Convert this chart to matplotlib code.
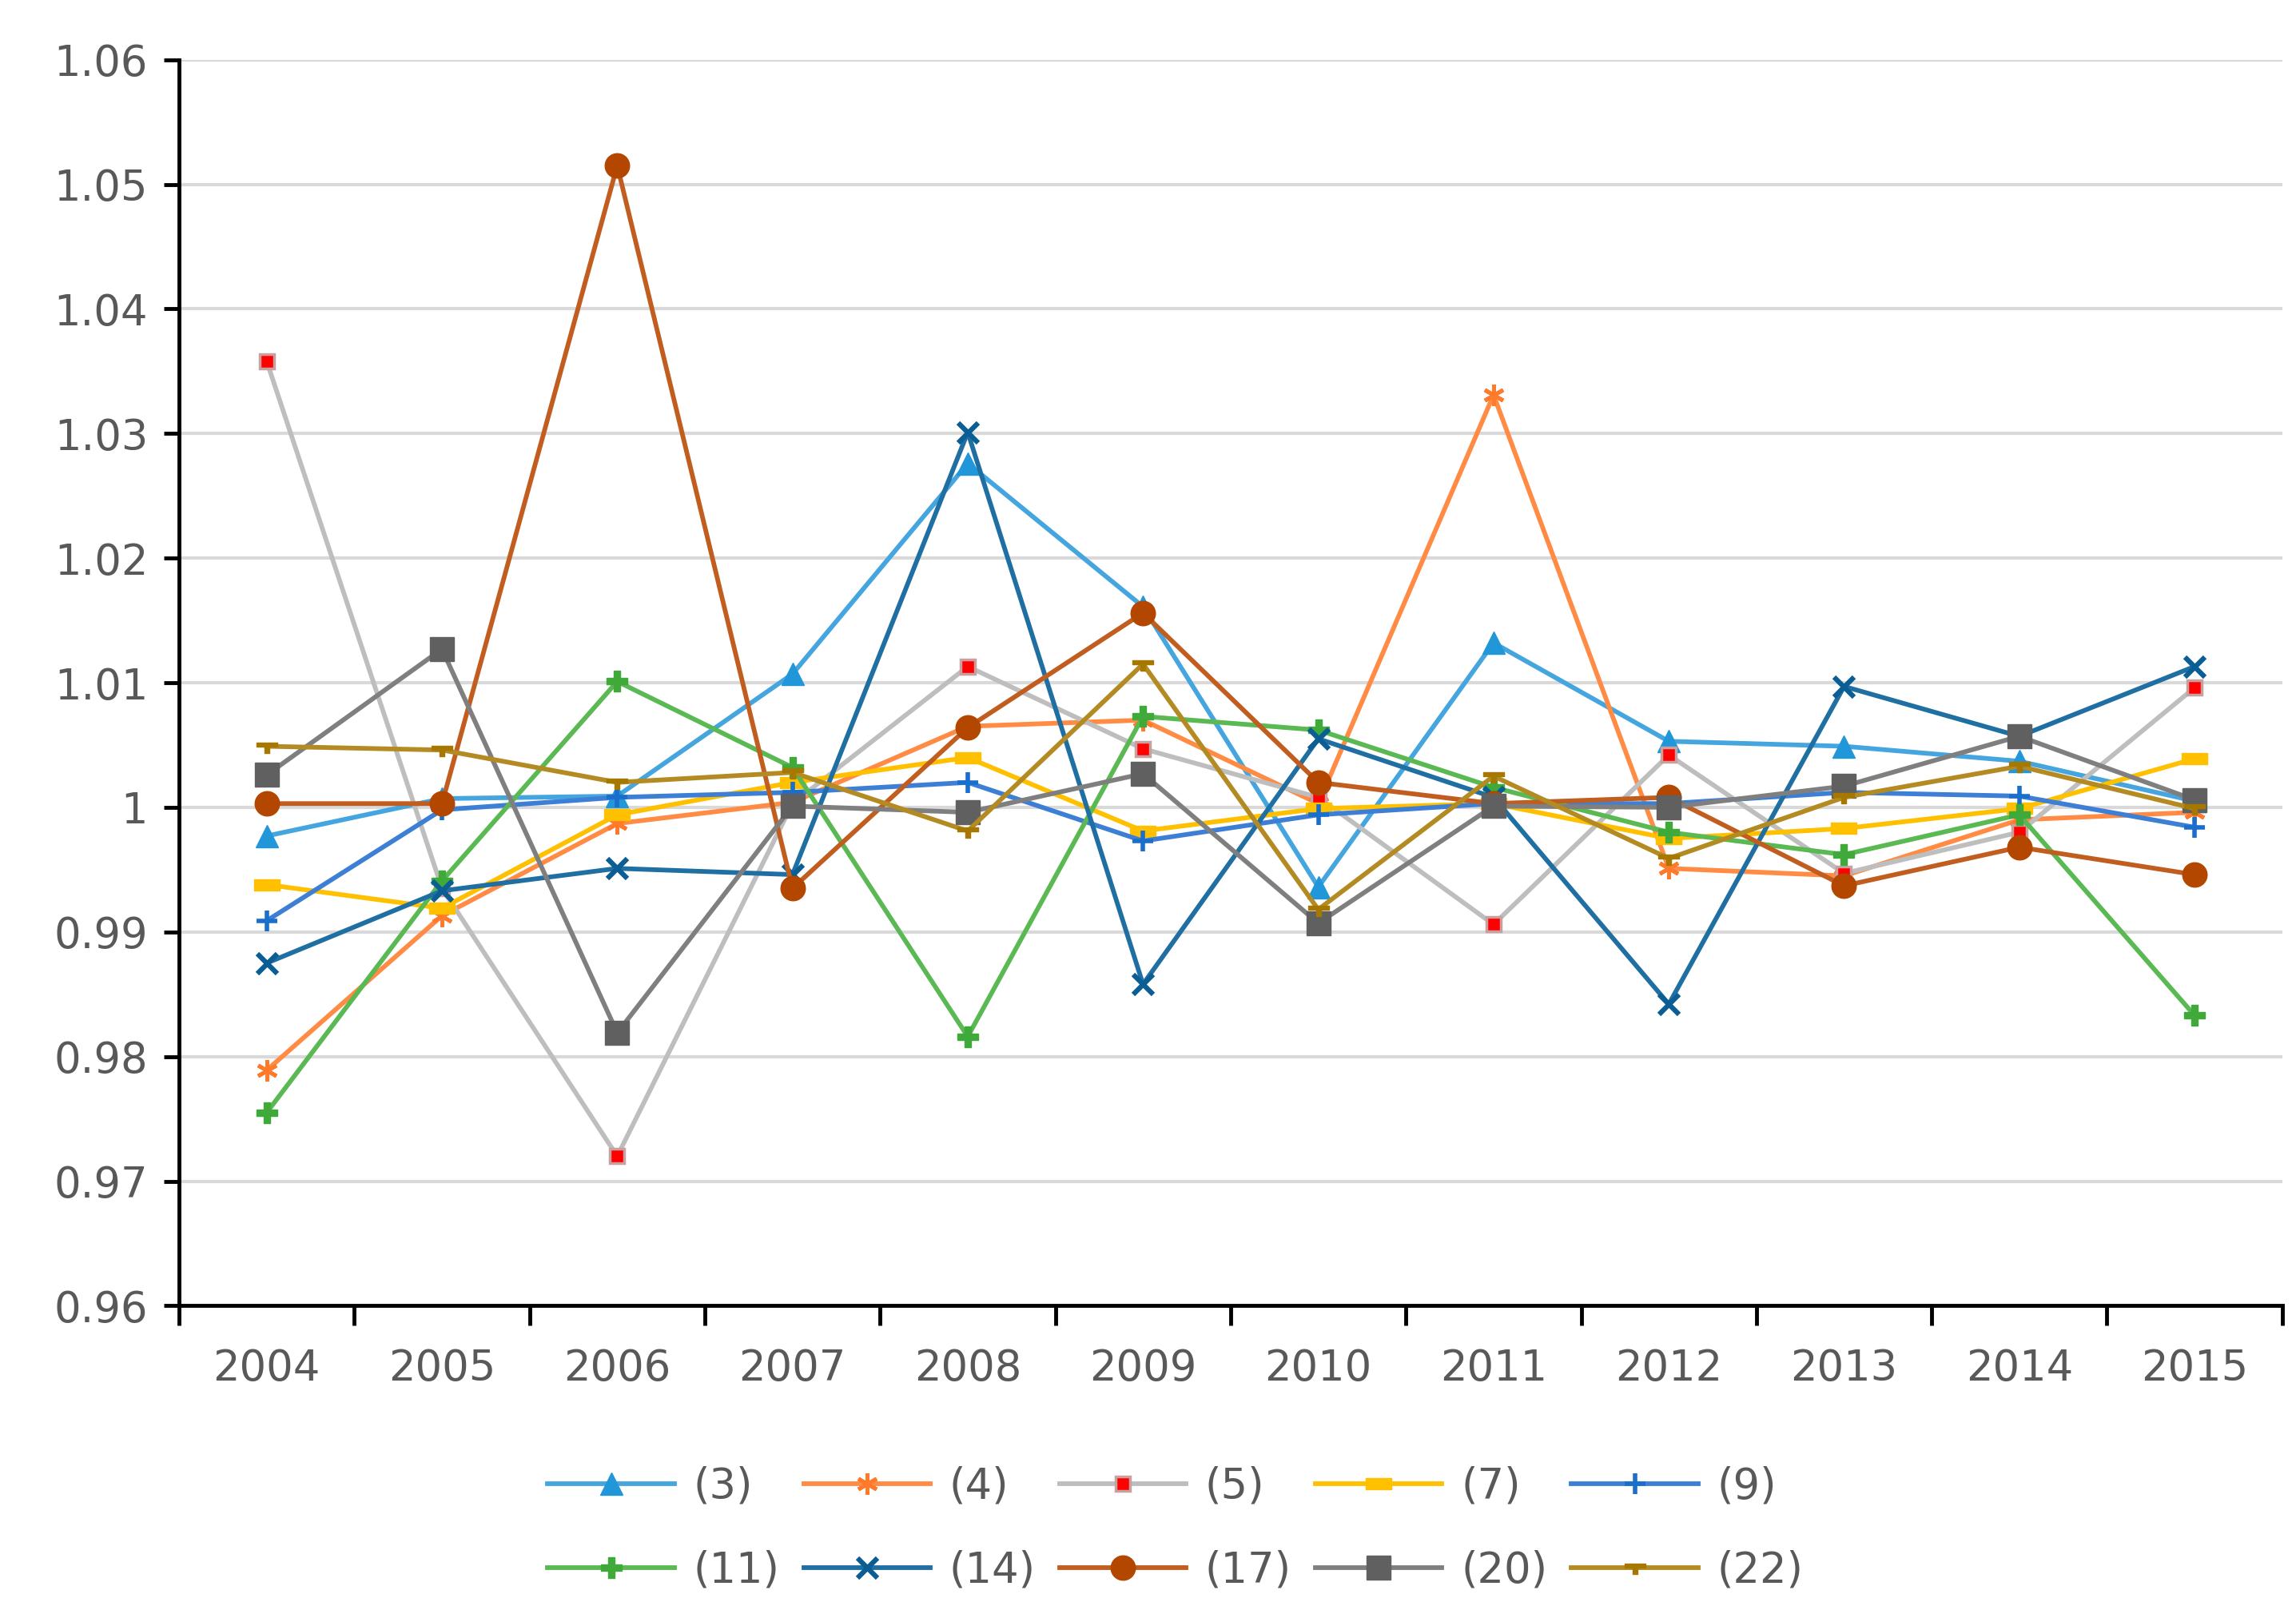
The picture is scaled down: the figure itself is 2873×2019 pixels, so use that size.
import matplotlib
matplotlib.use("Agg")
import matplotlib.pyplot as plt
from matplotlib.path import Path
import numpy as np

years = ["2004", "2005", "2006", "2007", "2008", "2009", "2010", "2011", "2012", "2013", "2014", "2015"]
labels = ["(3)", "(4)", "(5)", "(7)", "(9)", "(11)", "(14)", "(17)", "(20)", "(22)"]

s3 = [0.9977, 1.0007, 1.0009, 1.0107, 1.0276, 1.0161, 0.9936, 1.0132, 1.0053, 1.0049, 1.0037, 1.0005]
s4 = [0.9789, 0.9913, 0.9987, 1.0004, 1.0065, 1.0070, 1.0003, 1.0331, 0.9951, 0.9945, 0.9990, 0.9996]
s5 = [1.0358, 0.9935, 0.9720, 1.0003, 1.0113, 1.0047, 1.0008, 0.9906, 1.0042, 0.9947, 0.9980, 1.0096]
s7 = [0.9938, 0.9919, 0.9994, 1.0020, 1.0040, 0.9981, 0.9999, 1.0003, 0.9975, 0.9983, 0.9999, 1.0039]
s9 = [0.9909, 0.9998, 1.0008, 1.0012, 1.0020, 0.9973, 0.9994, 1.0003, 1.0003, 1.0012, 1.0009, 0.9984]
s11 = [0.9755, 0.9941, 1.0101, 1.0032, 0.9816, 1.0073, 1.0062, 1.0016, 0.9980, 0.9962, 0.9994, 0.9833]
s14 = [0.9875, 0.9933, 0.9951, 0.9946, 1.0301, 0.9858, 1.0055, 1.0008, 0.9842, 1.0097, 1.0057, 1.0113]
s17 = [1.0003, 1.0003, 1.0515, 0.9935, 1.0064, 1.0156, 1.0020, 1.0003, 1.0008, 0.9937, 0.9968, 0.9946]
s20 = [1.0026, 1.0127, 0.9819, 1.0001, 0.9996, 1.0027, 0.9907, 1.0001, 1.0000, 1.0017, 1.0057, 1.0006]
s22 = [1.0049, 1.0046, 1.0020, 1.0028, 0.9981, 1.0115, 0.9918, 1.0025, 0.9959, 1.0008, 1.0033, 0.9999]

yticks = [0.96, 0.97, 0.98, 0.99, 1.00, 1.01, 1.02, 1.03, 1.04, 1.05, 1.06]
ytick_labels = ["0.96", "0.97", "0.98", "0.99", "1", "1.01", "1.02", "1.03", "1.04", "1.05", "1.06"]

series = [s3, s4, s5, s7, s9, s11, s14, s17, s20, s22]

dash_marker = Path([(-1, -0.45), (1, -0.45), (1, 0.45), (-1, 0.45), (-1, -0.45)],
                   [Path.MOVETO, Path.LINETO, Path.LINETO, Path.LINETO, Path.CLOSEPOLY])
tee_marker = Path([(-1, 0.0), (1, 0.0), (1, 0.4), (-1, 0.4), (-1, 0.0),
                   (-0.2, 0.0), (0.2, 0.0), (0.2, -0.6), (-0.2, -0.6), (-0.2, 0.0)],
                  [Path.MOVETO, Path.LINETO, Path.LINETO, Path.LINETO, Path.CLOSEPOLY,
                   Path.MOVETO, Path.LINETO, Path.LINETO, Path.LINETO, Path.CLOSEPOLY])

styles = [
    dict(color="#45A5DF", marker="^", mfc="#2196D8", mec="#2196D8", ms=20),
    dict(color="#FF8B45", marker=(6, 2, 0), mfc="#FF7A2A", mec="#FF7A2A", ms=19, mew=3.5),
    dict(color="#BEBEBE", marker="s", mfc="#FF0000", mec="#C8A0A0", ms=13, mew=2.5),
    dict(color="#FFC000", marker=dash_marker, mfc="#FFC000", mec="#FFC000", ms=23),
    dict(color="#3E7FD6", marker="+", mfc="#1A6FCC", mec="#1A6FCC", ms=19, mew=4),
    dict(color="#5AB953", marker="P", mfc="#3FAA3A", mec="#3FAA3A", ms=19),
    dict(color="#1F6FA3", marker="x", mfc="#0B5E94", mec="#0B5E94", ms=18, mew=4.5),
    dict(color="#C25D20", marker="o", mfc="#B34700", mec="#B34700", ms=22),
    dict(color="#7F7F7F", marker="s", mfc="#606060", mec="#606060", ms=22),
    dict(color="#B38B22", marker=tee_marker, mfc="#A67800", mec="#A67800", ms=19),
]

plt.rcParams['font.family'] = ['DejaVu Sans']
fig = plt.figure(figsize=(28.73, 20.19), dpi=100)
ax = fig.add_axes([0.078, 0.191, 0.916, 0.772])

x = np.arange(len(years))
handles = []
for vals, lab, st in zip(series, labels, styles):
    h, = ax.plot(x, vals, label=lab, linewidth=4.2, zorder=3, **st)
    handles.append(h)

ax.set_xlim(-0.5, len(years) - 0.5)
ax.set_ylim(0.96, 1.06)
ax.set_yticks(yticks)
ax.set_yticklabels(ytick_labels)
ax.set_xticks(x)
ax.set_xticklabels(years)
ax.set_xticks(np.arange(-0.5, len(years), 1.0), minor=True)
ax.tick_params(axis="x", which="major", length=0, pad=38, labelsize=38, labelcolor="#595959")
ax.tick_params(axis="x", which="minor", length=18, width=3.5, color="black", direction="out")
ax.tick_params(axis="y", which="major", length=14, width=3.5, color="black", direction="out",
               pad=14, labelsize=38, labelcolor="#595959")

ax.grid(axis="y", color="#D9D9D9", linewidth=3, zorder=0)
ax.set_axisbelow(True)
for side in ["top", "right"]:
    ax.spines[side].set_visible(False)
for side in ["left", "bottom"]:
    ax.spines[side].set_linewidth(3.5)
    ax.spines[side].set_color("black")

order = [0, 5, 1, 6, 2, 7, 3, 8, 4, 9]
leg = fig.legend([handles[i] for i in order], [labels[i] for i in order],
                 loc="lower center", bbox_to_anchor=(0.512, -0.004), ncol=5, frameon=False,
                 fontsize=38, handlelength=3.0, handletextpad=0.45, columnspacing=0.57,
                 labelspacing=1.0, borderaxespad=0.3)
for t in leg.get_texts():
    t.set_color("#595959")

fig.savefig("out.png", dpi=100)
